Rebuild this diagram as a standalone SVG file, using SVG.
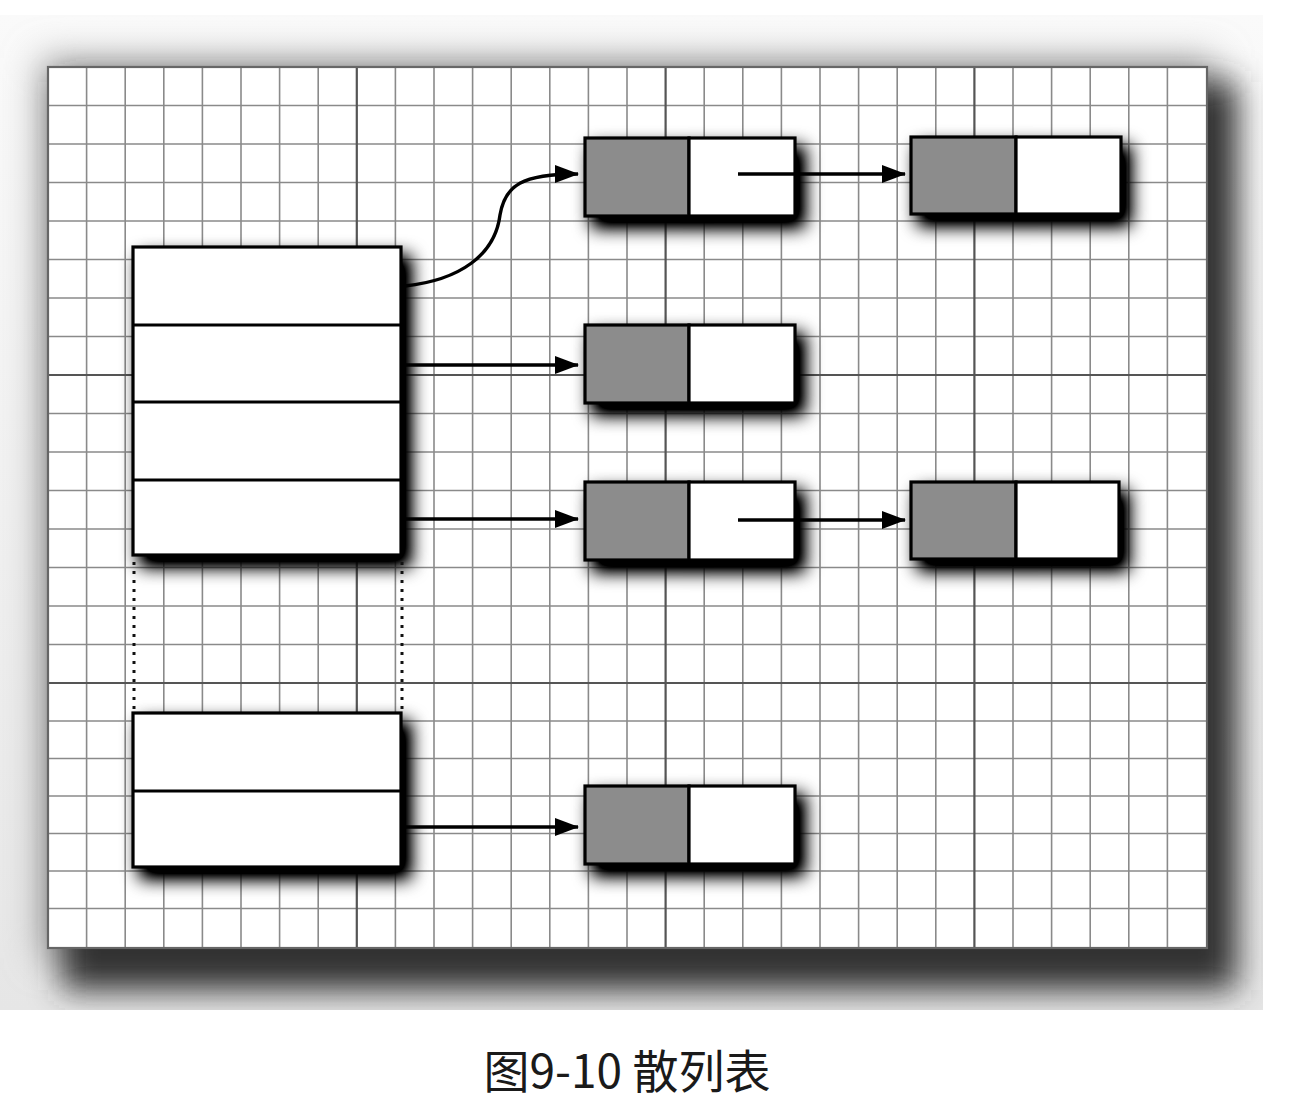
<svg xmlns="http://www.w3.org/2000/svg" width="1316" height="1104" viewBox="0 0 1316 1104">
<defs>
<style>
.minor{stroke:#8a8a8a;stroke-width:1.6;fill:none}
.major{stroke:#555;stroke-width:2.2;fill:none}
.box{stroke:#000;stroke-width:3.2;}
.white{fill:#fff}
.gray{fill:#8c8c8c}
.div{stroke:#000;stroke-width:3;fill:none}
.arrow{stroke:#000;stroke-width:3.4;fill:none;marker-end:url(#ah)}
.dots{stroke:#111;stroke-width:3;stroke-dasharray:3 6;fill:none}
.cap{font-family:"Noto Sans CJK SC","Noto Sans",sans-serif;font-size:46px;fill:#1a1a1a}
</style>
<marker id="ah" viewBox="0 0 24 18" refX="23" refY="9" markerWidth="24" markerHeight="18" markerUnits="userSpaceOnUse" orient="auto">
<path d="M0,0 L24,9 L0,18 Z" fill="#000"/>
</marker>
<filter id="sh" x="-30%" y="-40%" width="170%" height="200%">
<feGaussianBlur in="SourceAlpha" stdDeviation="9"/>
<feOffset dx="8" dy="10" result="b"/>
<feComponentTransfer><feFuncA type="linear" slope="1.4"/></feComponentTransfer>
<feMerge><feMergeNode/><feMergeNode in="SourceGraphic"/></feMerge>
</filter>
<filter id="halo" x="-10%" y="-10%" width="120%" height="120%">
<feGaussianBlur stdDeviation="18"/>
</filter>
<filter id="psh" x="-10%" y="-10%" width="120%" height="120%">
<feGaussianBlur stdDeviation="16"/>
</filter>
<linearGradient id="topg" x1="0" y1="0" x2="0" y2="1">
<stop offset="0" stop-color="#fafafa"/>
<stop offset="1" stop-color="#e6e6e6"/>
</linearGradient>
<clipPath id="clipbg"><rect x="0" y="15" width="1263" height="995"/></clipPath>
</defs>
<rect x="0" y="0" width="1316" height="1104" fill="#fff"/>
<g id="background" clip-path="url(#clipbg)">
<rect x="0" y="15" width="1263" height="995" fill="url(#topg)"/>
<rect x="40" y="58" width="1175" height="900" fill="#a8a8a8" filter="url(#halo)"/>
<rect x="62" y="82" width="1175" height="908" fill="#333" filter="url(#psh)"/>
</g>
<g id="grid-panel">
<rect x="48" y="67" width="1159" height="881" fill="#fff"/>
<path class="minor" d="M86.6,67V948M125.2,67V948M163.8,67V948M202.4,67V948M241,67V948M279.6,67V948M318.2,67V948M395.4,67V948M434,67V948M472.6,67V948M511.2,67V948M549.8,67V948M588.4,67V948M627,67V948M704.2,67V948M742.8,67V948M781.4,67V948M820,67V948M858.6,67V948M897.2,67V948M935.8,67V948M1013,67V948M1051.6,67V948M1090.2,67V948M1128.8,67V948M1167.4,67V948"/>
<path class="minor" d="M48,105.5H1207M48,144H1207M48,182.5H1207M48,221H1207M48,259.5H1207M48,298H1207M48,336.5H1207M48,413.5H1207M48,452H1207M48,490.5H1207M48,529H1207M48,567.5H1207M48,606H1207M48,644.5H1207M48,721H1207M48,758.5H1207M48,796H1207M48,833.5H1207M48,871H1207M48,908.5H1207"/>
<path class="major" d="M356.8,67V948M665.6,67V948M974.4,67V948M48,375H1207M48,683H1207"/>
<rect x="48" y="67" width="1159" height="881" fill="none" stroke="#666" stroke-width="2.2"/>
</g>
<g id="hash-table-top" filter="url(#sh)">
<rect class="box white" x="133" y="247" width="268" height="308"/>
</g>
<path class="div" d="M133,325H401M133,402H401M133,480H401"/>
<g id="hash-table-bottom" filter="url(#sh)">
<rect class="box white" x="133" y="713" width="268" height="154"/>
</g>
<path class="div" d="M133,791H401"/>
<g id="table-gap">
<path class="dots" d="M134,562V712M402,562V712"/>
</g>
<g id="node-1a" filter="url(#sh)">
<rect class="box gray" x="585" y="138" width="104" height="78"/>
<rect class="box white" x="689" y="138" width="106" height="78"/>
</g>
<g id="node-1b" filter="url(#sh)">
<rect class="box gray" x="911" y="137" width="105" height="77"/>
<rect class="box white" x="1016" y="137" width="105" height="77"/>
</g>
<g id="node-2" filter="url(#sh)">
<rect class="box gray" x="585" y="325" width="104" height="78"/>
<rect class="box white" x="689" y="325" width="106" height="78"/>
</g>
<g id="node-3a" filter="url(#sh)">
<rect class="box gray" x="585" y="482" width="104" height="78"/>
<rect class="box white" x="689" y="482" width="106" height="78"/>
</g>
<g id="node-3b" filter="url(#sh)">
<rect class="box gray" x="911" y="482" width="105" height="77"/>
<rect class="box white" x="1016" y="482" width="103" height="77"/>
</g>
<g id="node-4" filter="url(#sh)">
<rect class="box gray" x="585" y="786" width="104" height="78"/>
<rect class="box white" x="689" y="786" width="106" height="78"/>
</g>
<g id="connectors">
<path class="arrow" d="M405,286 C460,280 495,255 500,215 C505,185 522,174 578,174"/>
<path class="arrow" d="M405,365H578"/>
<path class="arrow" d="M405,519H578"/>
<path class="arrow" d="M405,827H578"/>
<path class="arrow" d="M738,174H905"/>
<path class="arrow" d="M738,520H905"/>
</g>
<text class="cap" x="627" y="1088" text-anchor="middle">图9-10 散列表</text>
</svg>
